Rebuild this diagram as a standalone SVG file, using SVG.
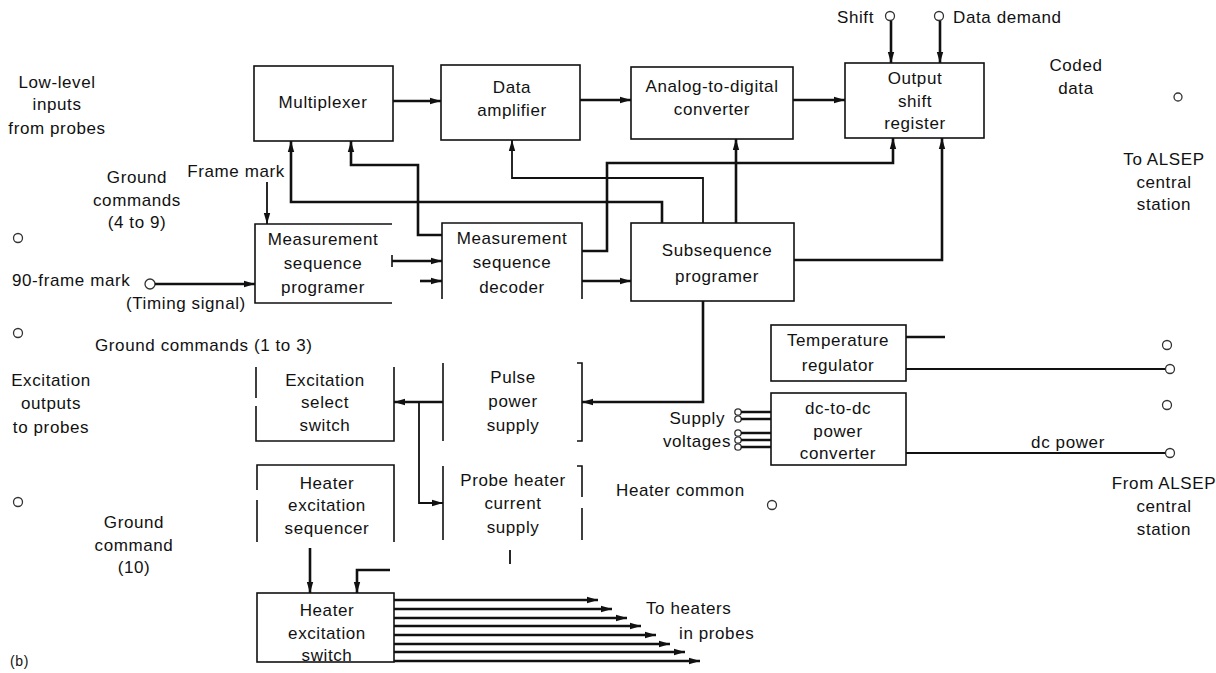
<svg xmlns="http://www.w3.org/2000/svg" width="1216" height="673" viewBox="0 0 1216 673">
<defs>
<marker id="ah" markerUnits="userSpaceOnUse" markerWidth="12" markerHeight="8" refX="11" refY="4" orient="auto">
<path d="M0,0.8 L11,4 L0,7.2 z" fill="#111"/>
</marker>
<style>
text{font-family:"Liberation Sans",Arial,sans-serif;font-size:17px;fill:#111;letter-spacing:0.6px}
.c{text-anchor:middle}
.e{text-anchor:end}
.box{fill:none;stroke:#111;stroke-width:1.6}
.w{fill:none;stroke:#111;stroke-width:2.6}
.t{fill:none;stroke:#111;stroke-width:1.8}
.ar{marker-end:url(#ah)}
.term{fill:none;stroke:#333;stroke-width:1.3}
</style>
</defs>
<rect width="1216" height="673" fill="#fff"/>

<g id="labels">
<text class="c" x="57" y="88">Low-level</text>
<text class="c" x="57" y="110">inputs</text>
<text class="c" x="57" y="134">from probes</text>
<text class="c" x="137" y="183">Ground</text>
<text class="c" x="137" y="206">commands</text>
<text class="c" x="137" y="228">(4 to 9)</text>
<text class="c" x="236" y="177">Frame mark</text>
<text x="12" y="286">90-frame mark</text>
<text x="126" y="309">(Timing signal)</text>
<text x="95" y="351">Ground commands (1 to 3)</text>
<text class="c" x="51" y="386">Excitation</text>
<text class="c" x="51" y="409">outputs</text>
<text class="c" x="51" y="433">to probes</text>
<text class="c" x="134" y="528">Ground</text>
<text class="c" x="134" y="551">command</text>
<text class="c" x="134" y="573">(10)</text>
<text x="10" y="666" style="font-size:14px">(b)</text>
<text class="e" x="874" y="23">Shift</text>
<text x="953" y="23">Data demand</text>
<text class="c" x="1076" y="71">Coded</text>
<text class="c" x="1076" y="94">data</text>
<text class="c" x="1164" y="165">To ALSEP</text>
<text class="c" x="1164" y="188">central</text>
<text class="c" x="1164" y="210">station</text>
<text class="c" x="1164" y="489">From ALSEP</text>
<text class="c" x="1164" y="512">central</text>
<text class="c" x="1164" y="535">station</text>
<text class="c" x="1068" y="448">dc power</text>
<text x="616" y="496">Heater common</text>
<text class="e" x="725" y="424">Supply</text>
<text class="e" x="731" y="447">voltages</text>
<text x="646" y="614">To heaters</text>
<text x="679" y="639">in probes</text>
</g>

<g id="multiplexer">
<rect class="box" x="254" y="66" width="139" height="75"/>
<text class="c" x="323" y="108">Multiplexer</text>
</g>
<g id="data-amplifier">
<rect class="box" x="441" y="65" width="139" height="75"/>
<text class="c" x="512" y="93">Data</text>
<text class="c" x="512" y="116">amplifier</text>
</g>
<g id="adc">
<rect class="box" x="631" y="67" width="162" height="72"/>
<text class="c" x="712" y="92">Analog-to-digital</text>
<text class="c" x="712" y="115">converter</text>
</g>
<g id="output-shift-register">
<rect class="box" x="845" y="63" width="139" height="75"/>
<text class="c" x="915" y="84">Output</text>
<text class="c" x="915" y="107">shift</text>
<text class="c" x="915" y="129">register</text>
</g>
<g id="measurement-sequence-programer">
<path class="box" d="M392,224 H255 V303 H392 M392,255 V267"/>
<text class="c" x="323" y="245">Measurement</text>
<text class="c" x="323" y="269">sequence</text>
<text class="c" x="323" y="293">programer</text>
</g>
<g id="measurement-sequence-decoder">
<path class="box" d="M442,299 V223 H582 V299"/>
<text class="c" x="512" y="244">Measurement</text>
<text class="c" x="512" y="268">sequence</text>
<text class="c" x="512" y="293">decoder</text>
</g>
<g id="subsequence-programer">
<rect class="box" x="631" y="223" width="163" height="78"/>
<text class="c" x="717" y="256">Subsequence</text>
<text class="c" x="717" y="282">programer</text>
</g>
<g id="temperature-regulator">
<rect class="box" x="771" y="325" width="135" height="56"/>
<text class="c" x="838" y="346">Temperature</text>
<text class="c" x="838" y="371">regulator</text>
</g>
<g id="dc-dc-converter">
<rect class="box" x="771" y="393" width="135" height="72"/>
<text class="c" x="838" y="414">dc-to-dc</text>
<text class="c" x="838" y="437">power</text>
<text class="c" x="838" y="459">converter</text>
</g>
<g id="excitation-select-switch">
<path class="box" d="M256,367 V398 M256,406 V441 H394 V367"/>
<text class="c" x="325" y="386">Excitation</text>
<text class="c" x="325" y="408">select</text>
<text class="c" x="325" y="431">switch</text>
</g>
<g id="pulse-power-supply">
<path class="box" d="M443,363 V441 M577,363 H582 V441 H577"/>
<text class="c" x="513" y="383">Pulse</text>
<text class="c" x="513" y="407">power</text>
<text class="c" x="513" y="431">supply</text>
</g>
<g id="heater-excitation-sequencer">
<path class="box" d="M257,490 V465 H394 V542 M257,500 V542"/>
<text class="c" x="327" y="489">Heater</text>
<text class="c" x="327" y="511">excitation</text>
<text class="c" x="327" y="534">sequencer</text>
</g>
<g id="probe-heater-current-supply">
<path class="box" d="M443,466 V540 M577,466 H582 V497 M582,508 V540"/>
<text class="c" x="513" y="486">Probe heater</text>
<text class="c" x="513" y="509">current</text>
<text class="c" x="513" y="533">supply</text>
</g>
<g id="heater-excitation-switch">
<rect class="box" x="257" y="593" width="137" height="69"/>
<text class="c" x="327" y="616">Heater</text>
<text class="c" x="327" y="639">excitation</text>
<text class="c" x="327" y="661">switch</text>
</g>

<g id="terminals">
<circle class="term" cx="890" cy="16" r="4.5"/>
<circle class="term" cx="939" cy="16" r="4.5"/>
<circle class="term" cx="150" cy="284" r="5"/>
<circle class="term" cx="18" cy="238" r="4.5"/>
<circle class="term" cx="18" cy="333" r="4.5"/>
<circle class="term" cx="18" cy="502" r="4.5"/>
<circle class="term" cx="1178" cy="97" r="4"/>
<circle class="term" cx="1167" cy="345" r="4.5"/>
<circle class="term" cx="1170" cy="369" r="4.5"/>
<circle class="term" cx="1167" cy="405" r="4.5"/>
<circle class="term" cx="1170" cy="453" r="4.5"/>
<circle class="term" cx="772" cy="505" r="4.5"/>
<circle class="term" cx="738" cy="412" r="3.2"/>
<circle class="term" cx="738" cy="419" r="3.2"/>
<circle class="term" cx="738" cy="433" r="3.2"/>
<circle class="term" cx="738" cy="440" r="3.2"/>
<circle class="term" cx="738" cy="447" r="3.2"/>
</g>

<g id="connectors">
<path class="w ar" d="M393,101 H441"/>
<path class="w ar" d="M580,100 H631"/>
<path class="w ar" d="M793,100 H845"/>
<path class="w ar" d="M891,21 V63"/>
<path class="w ar" d="M940,21 V63"/>
<path class="t ar" d="M267,182 V224"/>
<path class="w ar" d="M155,284 H255"/>
<path class="w ar" d="M662,223 V202 H291 V141"/>
<path class="w ar" d="M442,235 H418 V165 H351 V141"/>
<path class="t ar" d="M703,223 V178 H512 V140"/>
<path class="w ar" d="M736,223 V139"/>
<path class="w ar" d="M582,251 H607 V163 H893 V138"/>
<path class="w ar" d="M794,260 H942 V138"/>
<path class="w ar" d="M392,261 H442"/>
<path class="w ar" d="M420,281 H442"/>
<path class="w ar" d="M582,281 H631"/>
<path class="w ar" d="M703,301 V402 H582"/>
<path class="w ar" d="M443,402 H394"/>
<path class="t ar" d="M419,402 V503 H443"/>
<path class="w" d="M906,337 H945"/>
<path class="t" d="M906,369 H1165"/>
<path class="t" d="M906,453 H1165"/>
<path class="w" d="M741,412 H771 M741,419 H771 M741,433 H771 M741,440 H771 M741,447 H771"/>
<path class="w ar" d="M310,548 V593"/>
<path class="w ar" d="M390,570 H357 V593"/>
<path class="t" d="M510,550 V564"/>
<path class="w ar" d="M394,600 H598"/>
<path class="w ar" d="M394,609 H612"/>
<path class="w ar" d="M394,618 H627"/>
<path class="w ar" d="M394,626 H641"/>
<path class="w ar" d="M394,635 H656"/>
<path class="w ar" d="M394,644 H670"/>
<path class="w ar" d="M394,652 H685"/>
<path class="w ar" d="M394,661 H700"/>
</g>
</svg>
